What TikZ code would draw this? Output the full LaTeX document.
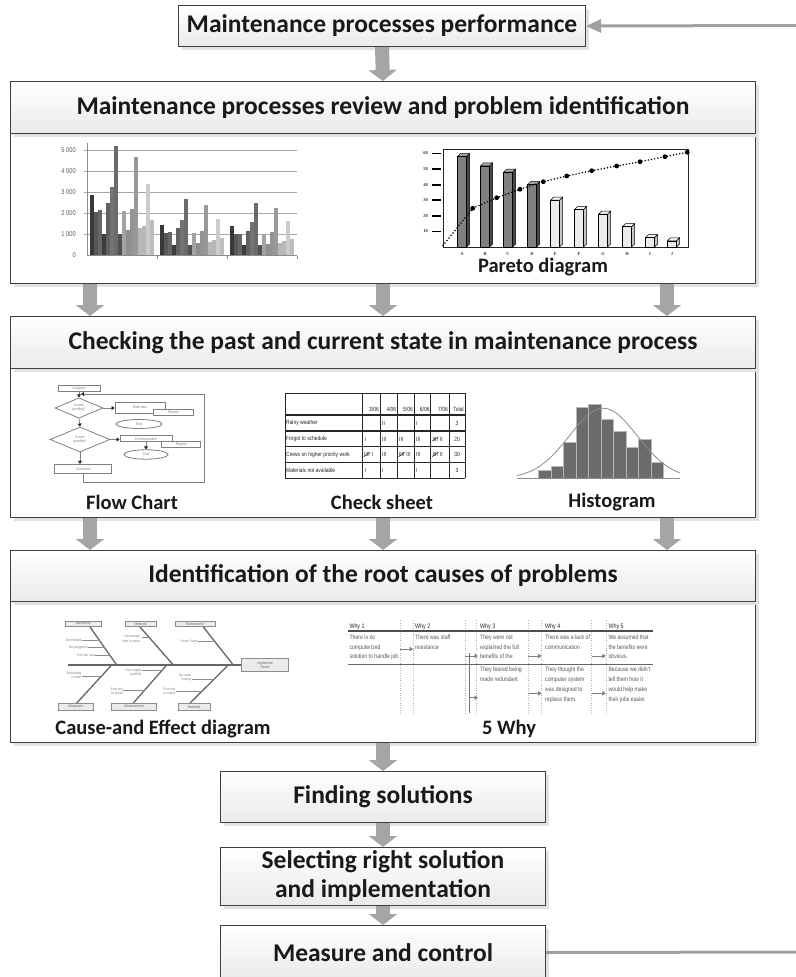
\documentclass[tikz,border=0pt]{standalone}
\usepackage{fontspec}
\setmainfont{Carlito}
\newfontfamily\narrowf[FakeStretch=0.82]{Liberation Sans}
\newfontfamily\serift{Liberation Serif}
\usetikzlibrary{arrows.meta,calc,shadows,shapes.geometric}
\definecolor{bordergray}{HTML}{3F3F3F}
\definecolor{arrowgray}{HTML}{A5A5A5}
\definecolor{hdrbot}{HTML}{EAEAEA}
\definecolor{shadowgray}{HTML}{E2E2E2}
\definecolor{fbgray}{HTML}{A0A0A0}
\colorlet{ser0}{black!78}\colorlet{ser1}{black!66}\colorlet{ser2}{black!60}\colorlet{ser3}{black!76}
\colorlet{ser4}{black!62}\colorlet{ser5}{black!55}\colorlet{ser6}{black!58}\colorlet{ser7}{black!68}
\colorlet{ser8}{black!36}\colorlet{ser9}{black!44}\colorlet{ser10}{black!42}\colorlet{ser11}{black!40}
\colorlet{ser12}{black!28}\colorlet{ser13}{black!28}\colorlet{ser14}{black!20}\colorlet{ser15}{black!26}
\colorlet{dfront}{black!50}\colorlet{dside}{black!72}\colorlet{dtop}{black!35}
\colorlet{lfront}{black!8}\colorlet{lside}{black!22}\colorlet{ltop}{black!4}
\begin{document}
\begin{tikzpicture}[x=1pt,y=-1pt,
  shad/.style={drop shadow={shadow xshift=3pt,shadow yshift=-3pt,fill=shadowgray,opacity=1}},
  hdr/.style={shad,draw=bordergray,line width=1pt,top color=white,bottom color=hdrbot,inner sep=0pt,
     font=\bfseries\fontsize{25.5}{29}\selectfont,align=center,text=black!90},
  bodybox/.style={shad,draw=bordergray,line width=1pt,fill=white,inner sep=0pt},
  blk/.style={arrowgray,line width=14pt,-{Triangle[length=11pt 0 0,width=28pt 0 0]}},
  fb/.style={fbgray,line width=3pt},
  lbl/.style={font=\bfseries\fontsize{20.5}{24}\selectfont,inner sep=0pt,text=black!90},
  axl/.style={font=\narrowf\fontsize{7}{7}\selectfont,text=black!65,inner sep=0pt,anchor=east},
  pl/.style={font=\serift\bfseries\fontsize{4.5}{5}\selectfont,text=black!80,inner sep=0pt},
  fcbox/.style={draw=black!50,line width=0.8pt,fill=white,inner sep=0pt,font=\narrowf\fontsize{3.8}{4}\selectfont,text=black!50},
  fcdia/.style={fcbox,diamond,align=center},
  fcell/.style={fcbox,ellipse},
  fca/.style={black!50,line width=0.8pt,-{Triangle[length=3pt 0 0,width=4pt 0 0,color=black!85]}},
  cst/.style={font=\narrowf\fontsize{6}{6}\selectfont,text=black!85,inner sep=0pt},
  tsl/.style={black!85,line width=0.5pt},
  fbn/.style={black!60,line width=1.3pt},
  fsb/.style={black!45,line width=0.6pt},
  fbx/.style={draw=black!45,fill=black!8,line width=0.6pt,inner sep=0.5pt,font=\narrowf\fontsize{3.8}{4}\selectfont,text=black!60},
  fbt/.style={font=\narrowf\fontsize{3.6}{4.2}\selectfont,text=black!50,align=right,inner sep=0pt,anchor=east},
  wt/.style={font=\narrowf\fontsize{6.3}{9.8}\selectfont,text=black!65,align=left,inner sep=0pt,anchor=north west},
  wh/.style={font=\narrowf\fontsize{6.5}{7}\selectfont,text=black!85,inner sep=0pt,anchor=west},
  wa/.style={black!50,line width=1pt,-{Triangle[length=3.5pt 0 0,width=4.5pt 0 0]}}
]
\useasboundingbox (0,0) rectangle (795,977);
\fill[white] (0,0) rectangle (795,977);

% ---------- main boxes ----------
\node[hdr,minimum width=407pt,minimum height=41pt,anchor=north west] (top) at (178,5) {Maintenance processes performance};

\node[bodybox,minimum width=745pt,minimum height=150pt,anchor=north west] (b2) at (10,133) {};
\node[hdr,minimum width=745pt,minimum height=52pt,anchor=north west] (h2) at (10,81) {Maintenance processes review and problem identification};

\node[bodybox,minimum width=745pt,minimum height=149pt,anchor=north west] (b3) at (10,368) {};
\node[hdr,minimum width=745pt,minimum height=52pt,anchor=north west] (h3) at (10,316) {Checking the past and current state in maintenance process};

\node[bodybox,minimum width=745pt,minimum height=141pt,anchor=north west] (b4) at (10,601) {};
\node[hdr,minimum width=745pt,minimum height=51pt,anchor=north west] (h4) at (10,550) {Identification of the root causes of problems};

\node[hdr,minimum width=325pt,minimum height=51pt,anchor=north west] (fs) at (220,771) {Finding solutions};
\node[hdr,minimum width=325pt,minimum height=58pt,anchor=north west] (sel) at (220,847) {Selecting right solution\\and implementation};
\node[hdr,minimum width=325pt,minimum height=54pt,anchor=north west] (mc) at (220,925) {Measure and control};

% ---------- block arrows ----------
\draw[blk] (top.south) -- (h2.north);
\draw[blk] ($(b2.south west)+(80,0)$) -- ($(h3.north west)+(80,0)$);
\draw[blk] (b2.south) -- (h3.north);
\draw[blk] ($(b2.south west)+(657,0)$) -- ($(h3.north west)+(657,0)$);
\draw[blk] ($(b3.south west)+(80,0)$) -- ($(h4.north west)+(80,0)$);
\draw[blk] (b3.south) -- (h4.north);
\draw[blk] ($(b3.south west)+(657,0)$) -- ($(h4.north west)+(657,0)$);
\draw[blk] (b4.south) -- (fs.north);
\draw[blk] (fs.south) -- (sel.north);
\draw[blk] (sel.south) -- (mc.north);

% ---------- feedback ----------
\coordinate (fbT) at (800,25.5);
\coordinate (fbB) at (800,952);
\draw[fb,-{Triangle[length=15pt 0 0,width=13pt 0 0]}] (fbT) -- (top.east);
\draw[fb] (mc.east) -- (fbB);

% ---------- bar chart ----------
\foreach \v in {1,...,5} \draw[black!35,line width=0.8pt] (84,{255.5-21.1*\v}) -- (297,{255.5-21.1*\v});
\foreach \g/\vals in {0/{2850,2050,2150,1000,2500,3250,5200,1000,2100,1200,2200,4650,1300,1400,3400,1700},
                      1/{1450,1050,1100,500,1300,1700,2700,500,1050,600,1150,2400,650,750,1750,850},
                      2/{1380,1000,1030,500,1180,1600,2500,500,1000,550,1100,2250,600,700,1650,800}}{
  \foreach \v [count=\i from 0] in \vals {
    \fill[fill=ser\i] ({90+70*\g+4*\i},255.5) rectangle ({94+70*\g+4*\i},{255.5-0.0211*\v});
  }
}
\draw[black!45,line width=0.8pt] (87,143) -- (87,255.5) -- (297,255.5);
\foreach \x in {157,227,297} \draw[black!45,line width=0.8pt] (\x,255.5) -- (\x,258.5);
\node[axl] (y5) at (76,150) {5 000};
\node[axl] (y4) at (76,171.1) {4 000};
\node[axl] (y3) at (76,192.2) {3 000};
\node[axl] (y2) at (76,213.3) {2 000};
\node[axl] (y1) at (76,234.4) {1 000};
\node[axl] (y0) at (76,255.5) {0};

% ---------- pareto ----------
\draw[black!85,line width=0.6pt] (443,149) rectangle (688,247);
\foreach \v in {10,20,...,60} {
  \draw[black,line width=1.8pt] (432,{247-1.56*\v}) -- (441,{247-1.56*\v});
  \node[pl,anchor=east] (pt\v) at (428,{247-1.56*\v}) {\v};
}
\foreach \c/\v/\t/\n in {462/58/d/A,485/52/d/B,508/48/d/C,532/40/d/D,555/30/l/E,579/24/l/F,603/21/l/G,627/13/l/H,650/6/l/I,672/4/l/J} {
  \pgfmathsetmacro\yt{247-1.56*\v}
  \filldraw[fill=\t side,draw=black,line width=0.5pt] ({\c+4.5},247) -- ({\c+7.5},244) -- ({\c+7.5},{\yt-3}) -- ({\c+4.5},\yt) -- cycle;
  \filldraw[fill=\t top,draw=black,line width=0.5pt] ({\c-4.5},\yt) -- ({\c-1.5},{\yt-3}) -- ({\c+7.5},{\yt-3}) -- ({\c+4.5},\yt) -- cycle;
  \filldraw[fill=\t front,draw=black,line width=0.5pt] ({\c-4.5},247) rectangle ({\c+4.5},\yt);
  \node[pl] (pb\n) at (\c,254) {\n};
}
\draw[black,line width=1.7pt,dash pattern=on 0pt off 3.2pt,line cap=round]
  (443,245.5) -- (472.7,208.3) -- (496.7,197.7) -- (520,189.3) -- (543.3,181.7) -- (566.7,176)
  -- (591.7,170.7) -- (616.7,166) -- (640,161.7) -- (665,156.7) -- (687.3,152.3);
\foreach \p in {(472.7,208.3),(496.7,197.7),(520,189.3),(543.3,181.7),(566.7,176),(591.7,170.7),(616.7,166),(640,161.7),(665,156.7),(687.3,152.3)}
  \fill[black] \p circle (2.4pt);
\node[lbl] (lpar) at (543,267) {Pareto diagram};

% ---------- flow chart ----------
\node[fcbox,minimum width=42pt,minimum height=5.5pt] (fa) at (79,388.3) {Analyses};
\node[fcdia,minimum width=48pt,minimum height=19pt] (fd1) at (79,408) {Is work\\pending?};
\node[fcbox,minimum width=50pt,minimum height=11pt] (fw) at (140,407.5) {Write data};
\node[fcbox,minimum width=40pt,minimum height=6.5pt] (fr) at (173.3,412.3) {Rework};
\node[fcell,minimum width=46pt,minimum height=9pt] (fe1) at (139,424) {End};
\node[fcdia,minimum width=60pt,minimum height=25pt] (fd2) at (80,439.5) {Is work\\possible?};
\node[fcbox,minimum width=52pt,minimum height=6pt] (fc) at (146,438.7) {Communication};
\node[fcbox,minimum width=39pt,minimum height=6.7pt] (frp) at (181.3,444.3) {Reports};
\node[fcell,minimum width=44pt,minimum height=9.4pt] (fe2) at (146,454.5) {End};
\node[fcbox,minimum width=57pt,minimum height=9pt] (fcr) at (83.3,468.8) {Correction};
\draw[fca] (fa.south) -- (fd1.north);
\draw[fca] (fd1.east) -- (fd1.east -| fw.west);
\draw[fca] (fd1.south) -- (fd2.north);
\draw[fca] (fd2.east) -- (fd2.east -| fc.west);
\draw[fca] (fc.south) -- (fe2.north);
\draw[fca] (fd2.south) -- (fd2.south |- fcr.north);
\coordinate (fl1) at (204,394);
\coordinate (fl2) at (81,394);
\draw[fca] (fcr.south) -- ++(0,8.4) -| (fl1) -- (fl2);
\node[lbl] (lflow) at (132,502) {Flow Chart};

% ---------- check sheet ----------
\foreach \y in {393.3,415,431,446.7,462.3,478.3} \draw[black!85,line width=1.1pt] (285,\y) -- (465,\y);
\foreach \x in {285,362.7,380,397.3,414,430.7,449,465} \draw[black!85,line width=0.7pt] (\x,393.3) -- (\x,478.3);
\node[cst,anchor=east] (ch1) at (379,409) {3/06};
\node[cst,anchor=east] (ch2) at (396.3,409) {4/06};
\node[cst,anchor=east] (ch3) at (413,409) {5/06};
\node[cst,anchor=east] (ch4) at (429.7,409) {6/06};
\node[cst,anchor=east] (ch5) at (448,409) {7/06};
\node[cst,anchor=east] (ch6) at (464,409) {Total};
\node[cst,anchor=west] (cr1) at (286,423) {Rainy weather};
\node[cst,anchor=west] (cr2) at (286,439) {Forgot to schedule};
\node[cst,anchor=west] (cr3) at (286,454.5) {Crews on higher priority work};
\node[cst,anchor=west] (cr4) at (286,470.3) {Materials not available};
\node[cst,anchor=west] (c12) at (382,423) {II};
\node[cst,anchor=west] (c14) at (416,423) {I};
\node[cst] (c16) at (457,423) {3};
\node[cst,anchor=west] (c21) at (364.5,439) {I};
\node[cst,anchor=west] (c22) at (382,439) {III};
\node[cst,anchor=west] (c23) at (399,439) {III};
\node[cst,anchor=west] (c24) at (416,439) {III};
\node[cst,anchor=west] (c25a) at (432.3,439) {IIII};
\draw[tsl] ($(c25a.south west)+(-0.3,0)$) -- ($(c25a.north east)+(0.3,0)$);
\node[cst,anchor=west] (c25b) at ($(c25a.east)+(1.6,0)$) {II};
\node[cst] (c26) at (457,439) {20};
\node[cst,anchor=west] (c31a) at (364,454.5) {IIII};
\draw[tsl] ($(c31a.south west)+(-0.3,0)$) -- ($(c31a.north east)+(0.3,0)$);
\node[cst,anchor=west] (c31b) at ($(c31a.east)+(1.6,0)$) {I};
\node[cst,anchor=west] (c32) at (382,454.5) {III};
\node[cst,anchor=west] (c33a) at (398.8,454.5) {IIII};
\draw[tsl] ($(c33a.south west)+(-0.3,0)$) -- ($(c33a.north east)+(0.3,0)$);
\node[cst,anchor=west] (c33b) at ($(c33a.east)+(1.4,0)$) {III};
\node[cst,anchor=west] (c34) at (416,454.5) {III};
\node[cst,anchor=west] (c35a) at (432.3,454.5) {IIII};
\draw[tsl] ($(c35a.south west)+(-0.3,0)$) -- ($(c35a.north east)+(0.3,0)$);
\node[cst,anchor=west] (c35b) at ($(c35a.east)+(1.6,0)$) {II};
\node[cst] (c36) at (457,454.5) {30};
\node[cst,anchor=west] (c41) at (364.5,470.3) {I};
\node[cst,anchor=west] (c42) at (382,470.3) {I};
\node[cst,anchor=west] (c44) at (416,470.3) {I};
\node[cst] (c46) at (457,470.3) {3};
\node[lbl] (lcheck) at (382,502) {Check sheet};

% ---------- histogram ----------
\foreach \xl/\xr/\t in {538.3/550.8/470,550.8/563.3/466.7,563.3/575.8/442.7,575.8/588.3/407.7,588.3/600.8/404,
                        600.8/613.3/419.3,613.3/625.8/431,625.8/638.3/447.3,638.3/650.8/439,650.8/663.3/462.7}
  \filldraw[fill=black!58,draw=black!28,line width=0.5pt] (\xl,478.3) rectangle (\xr,\t);
\draw[black!45,line width=0.8pt] (517,478.3) -- (680,478.3);
\draw[black!45,line width=0.8pt] plot[domain=517:680,samples=80,smooth] (\x,{478.3-70*exp(-((\x-603.3)^2)/2308)});
\node[lbl] (lhist) at (612,502) {Histogram};

% ---------- fishbone ----------
\node[fbx,minimum width=36.7pt,minimum height=5.7pt] (mach) at (83.3,623.8) {Machinery};
\node[fbx,minimum width=31pt,minimum height=5.7pt] (meth) at (140.5,623.8) {Methods};
\node[fbx,minimum width=40pt,minimum height=5.7pt] (envi) at (195,623.8) {Environment};
\node[fbx,minimum width=35pt,minimum height=6.7pt] (manp) at (75.8,706.7) {Manpower};
\node[fbx,minimum width=45pt,minimum height=6.7pt] (meas) at (134.2,706.7) {Measurement};
\node[fbx,minimum width=31.7pt,minimum height=6.7pt] (mate) at (194.2,706.7) {Materials};
\node[fbx,minimum width=46.6pt,minimum height=13.4pt,align=center] (head) at (265,665) {Unplanned\\Pause};
\coordinate (sp0) at (68.3,665);
\draw[fbn] (sp0) -- (head.west);
\draw[fbn] ($(mach.south)+(6.7,0)$) -- (116.7,665);
\draw[fbn] ($(meth.south)+(-0.5,0)$) -- (173.3,665);
\draw[fbn] ($(envi.south)+(8.3,0)$) -- (233.3,665);
\draw[fbn] ($(manp.north)+(0.9,0)$) -- (111.7,665);
\draw[fbn] ($(meas.north)+(-0.9,0)$) -- (166.7,665);
\draw[fbn] ($(mate.north)+(-4.2,0)$) -- (228.3,665);
\node[fbt] (t1) at (81.5,640.7) {Overheated};
\draw[fsb] (t1.east) -- (99.8,640.7);
\node[fbt] (t2) at (88,647.7) {Not plugged in};
\draw[fsb] (t2.east) -- (104.6,647.7);
\node[fbt] (t3) at (95,655) {Poor fan card};
\draw[fsb] (t3.east) -- (109.7,655);
\node[fbt] (t4) at (140,639) {Not enough\\time to repair};
\draw[fsb] (141.7,637.3) -- (149.2,637.3);
\node[fbt] (t5) at (198,641.7) {Power Surge};
\draw[fsb] (t5.east) -- (215,641.7);
\node[fbt] (t6) at (81.5,675.5) {Staff taking\\on alert};
\draw[fsb] (82,676.7) -- (101,676.7);
\node[fbt] (t7) at (141.5,672.3) {Poor supply\\qualified};
\draw[fsb] (141.7,670) -- (162.3,670);
\node[fbt] (t8) at (123,691) {Poor test\\no check};
\draw[fsb] (123.3,690) -- (144.9,690);
\node[fbt] (t9) at (191.5,677.8) {Too much\\heating};
\draw[fsb] (192,679) -- (214.3,679);
\node[fbt] (t10) at (175.5,691.2) {Poor test\\no check};
\draw[fsb] (176,691) -- (202.3,691);
\node[lbl] (lfish) at (163,729) {Cause-and Effect diagram};

% ---------- 5 why ----------
\foreach \x in {400,413.3,465,476.7,528.3,541.7,591.7,606}
  \draw[black!30,dotted,line width=0.5pt] (\x,620) -- (\x,713.3);
\draw[black!70,line width=1.3pt] (348.3,631) -- (653.3,631);
\draw[black!60,line width=1pt] (348.3,664) -- (653.3,664);
\node[wh] (wh1) at (349.3,626.7) {Why 1};
\node[wh] (wh2) at (415,626.7) {Why 2};
\node[wh] (wh3) at (480,626.7) {Why 3};
\node[wh] (wh4) at (545,626.7) {Why 4};
\node[wh] (wh5) at (608.3,626.7) {Why 5};
\node[wt] (w11) at (349.3,634.5) {There is no\\computerized\\solution to handle job};
\node[wt] (w12) at (415,634.5) {There was staff\\resistance};
\node[wt] (w13) at (480,634.5) {They were not\\explained the full\\benefits of the};
\node[wt] (w14) at (545,634.5) {There was a lack of\\communication};
\node[wt] (w15) at (608.3,634.5) {We assumed that\\the benefits were\\obvious.};
\node[wt] (w23) at (480,667) {They feared being\\made redundant};
\node[wt] (w24) at (545,667) {They thought the\\computer system\\was designed to\\replace them.};
\node[wt] (w25) at (608.3,667) {Because we didn't\\tell them how it\\would help make\\their jobs easier.};
\draw[wa] (400,649) -- (413,649);
\draw[wa] (465,656) -- (478,656);
\draw[black!55,line width=1.3pt] (469.3,653.3) -- (469.3,713.3);
\draw[wa] (469.3,697.7) -- (478,697.7);
\draw[wa] (528.3,656) -- (541.5,656);
\draw[wa] (591.7,656) -- (605.8,656);
\draw[wa] (528.3,693.3) -- (541.5,693.3);
\draw[wa] (591.7,693.3) -- (605.8,693.3);
\node[lbl] (lwhy) at (509,729) {5 Why};
\end{tikzpicture}
\end{document}
